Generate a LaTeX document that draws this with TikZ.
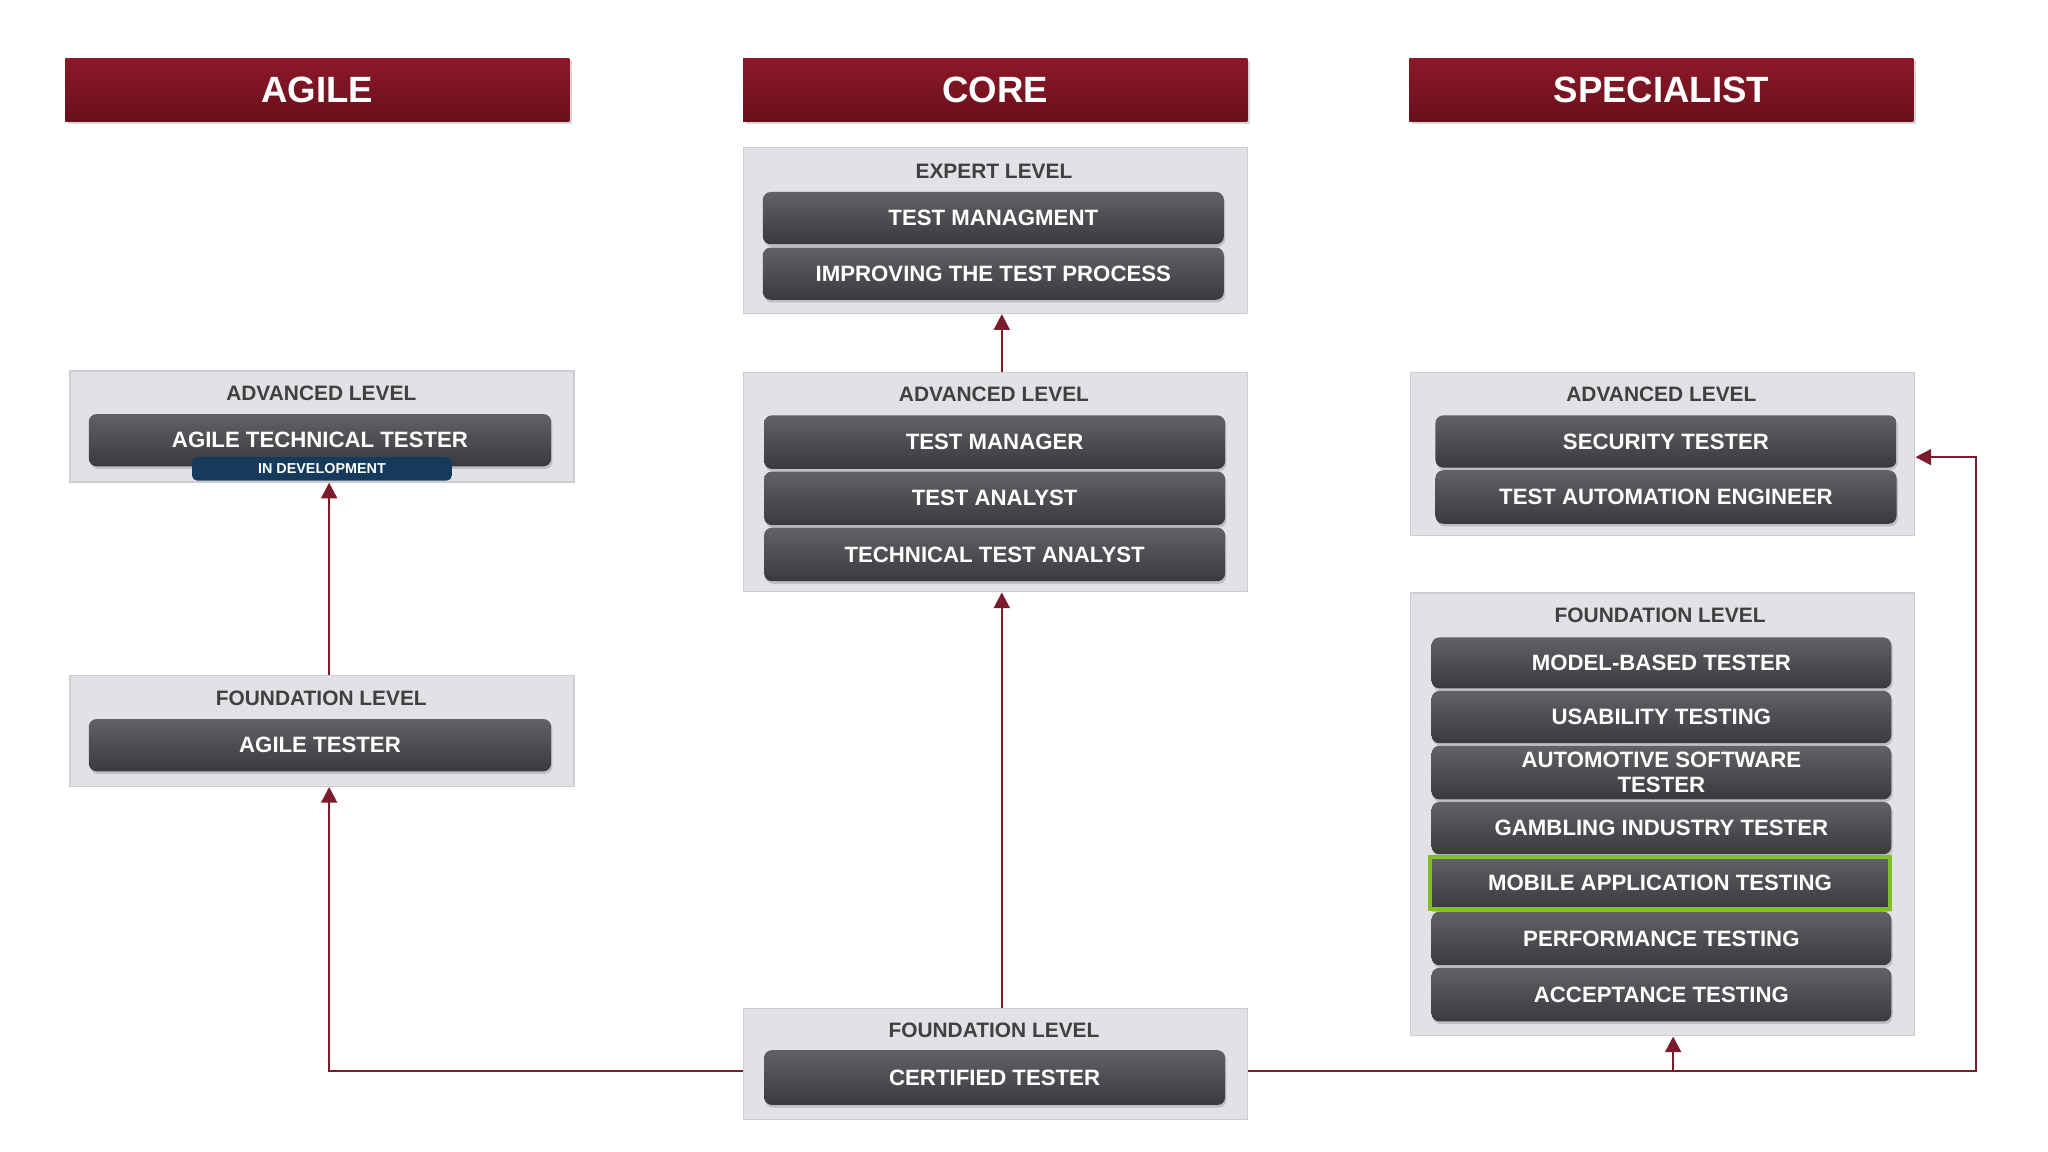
\documentclass[tikz,border=0pt]{standalone}
\usepackage{fontspec}
\setmainfont{Liberation Sans}
\usetikzlibrary{arrows.meta,positioning,shadows}
\definecolor{hdr}{RGB}{140,24,40}
\definecolor{hdrdark}{RGB}{105,16,28}
\definecolor{link}{RGB}{122,28,44}
\definecolor{panel}{RGB}{226,226,230}
\definecolor{panelline}{RGB}{205,205,210}
\definecolor{btntop}{RGB}{98,98,102}
\definecolor{btnbot}{RGB}{58,58,62}
\definecolor{devblue}{RGB}{22,58,92}
\definecolor{mobgreen}{RGB}{130,190,40}
\tikzset{
  header/.style={minimum width=386pt,minimum height=48pt,inner sep=0pt,
    top color=hdr,bottom color=hdrdark,draw=none,text=white,
    drop shadow={opacity=0.3,shadow xshift=2pt,shadow yshift=-2pt},
    font=\fontsize{28}{30}\selectfont\bfseries},
  panel/.style={fill=panel,draw=panelline,line width=1pt,minimum width=386pt,inner sep=0pt},
  level/.style={text=black!75,font=\fontsize{16}{18}\selectfont\bfseries},
  btn/.style={rounded corners=6pt,top color=btntop,bottom color=btnbot,draw=none,
    text=white,inner sep=0pt,minimum height=40pt,align=center,
    drop shadow={opacity=0.35,shadow xshift=1pt,shadow yshift=-2pt},
    font=\fontsize{17}{19}\selectfont\bfseries},
  link/.style={draw=link,line width=2pt,-{Triangle[length=12pt,width=12pt]}}
}
\begin{document}
\begin{tikzpicture}[x=1pt,y=-1pt]
  \useasboundingbox[fill=white] (0,0) rectangle (1568,882);
  % column headers
  \node[header] (hagile) at (243,69) {AGILE};
  \node[header] (hcore) at (762,69) {CORE};
  \node[header] (hspec) at (1272,69) {SPECIALIST};

  % agile column
  \node[panel,minimum height=85pt] (aadv) at (246.5,326.5) {};
  \node[level] at (246,301) {ADVANCED LEVEL};
  \node[btn,minimum width=354pt] (att) at (245,337) {AGILE TECHNICAL TESTER};
  \node[rounded corners=4pt,fill=devblue,text=white,minimum width=199pt,minimum height=18pt,
    inner sep=0pt,font=\fontsize{11}{12}\selectfont\bfseries] (dev) at (246.5,359) {IN DEVELOPMENT};
  \node[panel,minimum height=85pt] (afnd) at (246.5,559.5) {};
  \node[level] at (246,535) {FOUNDATION LEVEL};
  \node[btn,minimum width=354pt] (at) at (245,570.5) {AGILE TESTER};

  % core column
  \node[panel,minimum height=127pt] (cexp) at (762,176.5) {};
  \node[level] at (761,131) {EXPERT LEVEL};
  \node[btn,minimum width=353pt] (tm) at (760.5,167) {TEST MANAGMENT};
  \node[btn,minimum width=353pt] (itp) at (760.5,209.5) {IMPROVING THE TEST PROCESS};
  \node[panel,minimum height=168pt] (cadv) at (762,369) {};
  \node[level] at (761,302) {ADVANCED LEVEL};
  \node[btn,minimum width=353pt,minimum height=41pt] (tmr) at (761.5,338.5) {TEST MANAGER};
  \node[btn,minimum width=353pt,minimum height=41pt] (ta) at (761.5,381.5) {TEST ANALYST};
  \node[btn,minimum width=353pt,minimum height=41pt] (tta) at (761.5,424.5) {TECHNICAL TEST ANALYST};
  \node[panel,minimum height=85pt] (cfnd) at (762,814.5) {};
  \node[level] at (761,789) {FOUNDATION LEVEL};
  \node[btn,minimum width=353pt,minimum height=42pt] (ct) at (761.5,825) {CERTIFIED TESTER};

  % specialist column
  \node[panel,minimum height=125pt] (sadv) at (1273,347.5) {};
  \node[level] at (1272,302) {ADVANCED LEVEL};
  \node[btn,minimum width=353pt] (st) at (1275.5,338) {SECURITY TESTER};
  \node[btn,minimum width=353pt,minimum height=41pt] (tae) at (1275.5,380.5) {TEST AUTOMATION ENGINEER};
  \node[panel,minimum height=339pt] (sfnd) at (1273,623.5) {};
  \node[level] at (1271,471) {FOUNDATION LEVEL};
  \node[btn,minimum width=352pt,minimum height=39pt] (mbt) at (1272,507.5) {MODEL-BASED TESTER};
  \node[btn,minimum width=352pt] (ut) at (1272,549) {USABILITY TESTING};
  \node[btn,minimum width=352pt,minimum height=41pt,
    font=\fontsize{17}{19}\selectfont\bfseries] (ast) at (1272,591.5) {AUTOMOTIVE SOFTWARE\\TESTER};
  \node[btn,minimum width=352pt] (git) at (1272,634) {GAMBLING INDUSTRY TESTER};
  \node[btn,minimum width=352pt,rounded corners=0pt,draw=mobgreen,line width=3pt] (mat) at (1271,676) {MOBILE APPLICATION TESTING};
  \node[btn,minimum width=352pt,minimum height=41pt] (pt) at (1272,718.5) {PERFORMANCE TESTING};
  \node[btn,minimum width=352pt,minimum height=41pt] (act) at (1272,761.5) {ACCEPTANCE TESTING};

  % connectors
  \draw[link] (cadv.north -| 767,0) -- (cexp.south -| 767,0);
  \draw[link] (cfnd.north -| 767,0) -- (cadv.south -| 767,0);
  \draw[link] (cfnd.west |- 0,820) -| (afnd.south -| 252,0);
  \draw[link] (afnd.north -| 252,0) -- (aadv.south -| 252,0);
  \draw[link] (cfnd.east |- 0,820) -| (1513,350) -- (sadv.east |- 0,350);
  \draw[link] (1281,820) -- (sfnd.south -| 1281,0);
\end{tikzpicture}
\end{document}
